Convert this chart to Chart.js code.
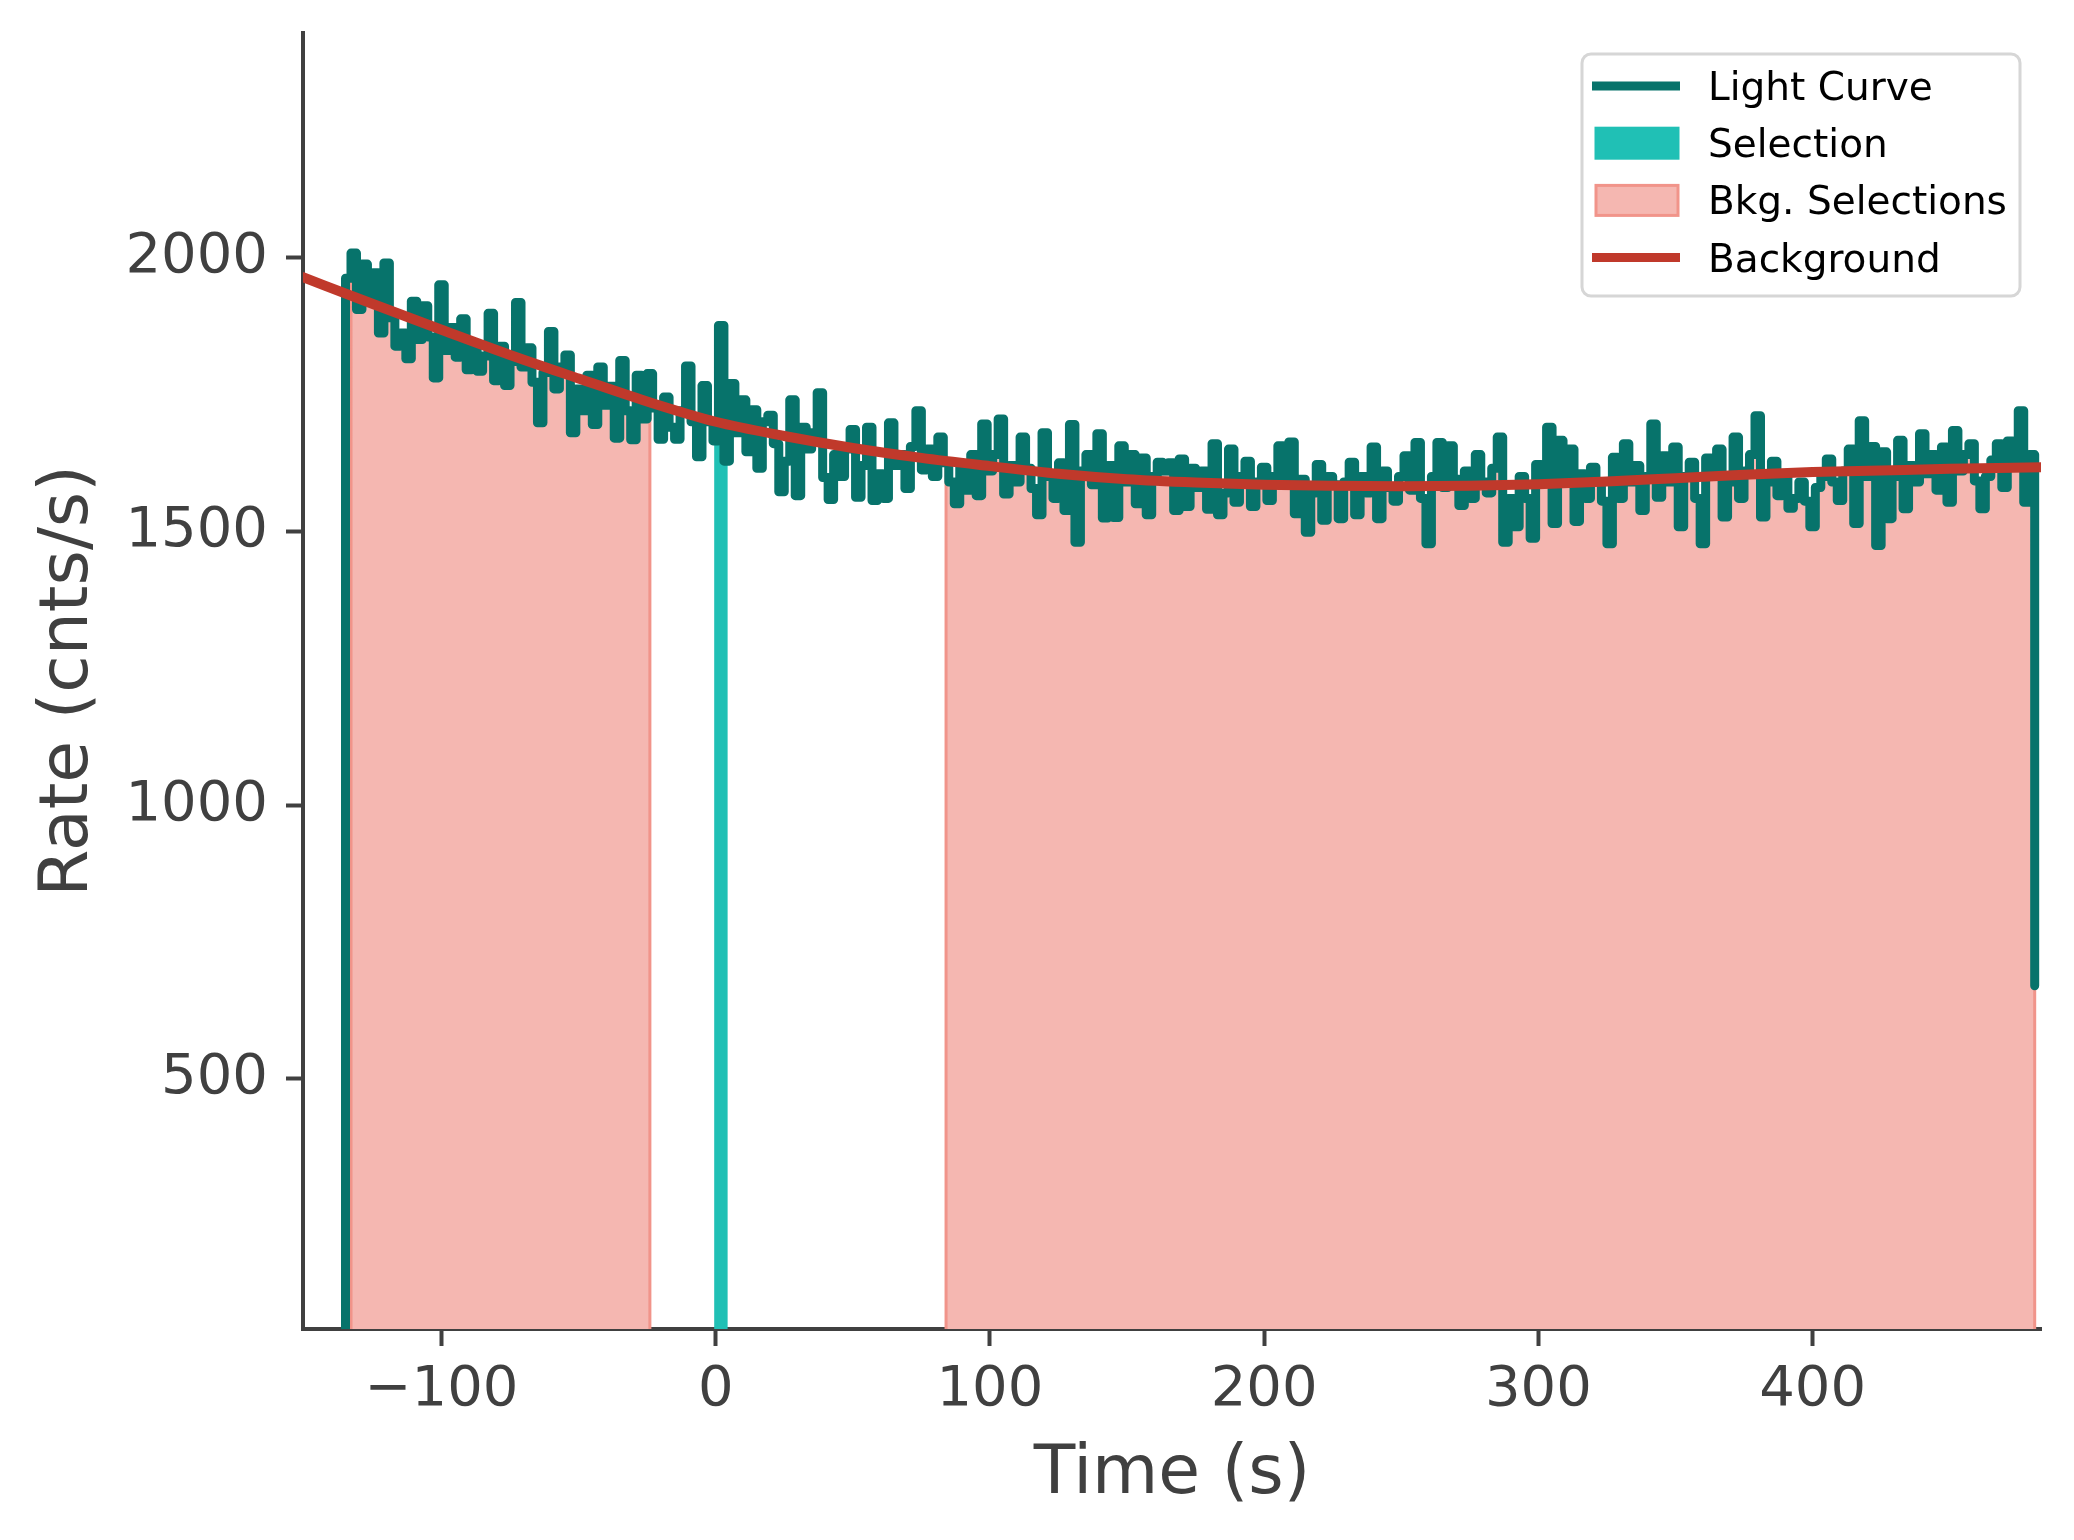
<!DOCTYPE html>
<html lang="en">
<head>
  <meta charset="UTF-8">
  <title>Light Curve - Background Fit</title>
  <script src="https://cdn.jsdelivr.net/npm/chart.js"></script>
  <style>
    body { margin: 0; background: white; }
    canvas { display: block; }
  </style>
</head>
<body>
<canvas id="lcChart" width="2074" height="1540"></canvas>

<script>
// light curve, 2 s bins from lcStart; the step rises from zero at the first edge
const lcStart = -135;
const lcBin = 2;
const lcRate = [
  1962, 2008, 1905, 1988, 1932,  1972, 1862, 1990, 1890, 1838,
  1862, 1815, 1920, 1850, 1912,  1855, 1780, 1950, 1830, 1872,
  1818, 1888, 1795, 1840, 1792,  1820, 1898, 1775, 1838, 1766,
  1810, 1918, 1800, 1835, 1772,  1698, 1790, 1865, 1760, 1800,
  1822, 1680, 1760, 1720, 1785,  1695, 1800, 1730, 1765, 1670,
  1812, 1720, 1667, 1785, 1705,  1788, 1725, 1668, 1745, 1690,
  1668, 1720, 1802, 1700, 1636,  1766, 1700, 1665, 1876, 1628,
  1770, 1680, 1740, 1645, 1722,  1615, 1700, 1712, 1660, 1572,
  1628, 1740, 1565, 1690, 1650,  1680, 1753, 1598, 1558, 1640,
  1600, 1650, 1686, 1562, 1620,  1690, 1556, 1605, 1560, 1698,
  1620, 1640, 1578, 1655, 1720,  1612, 1650, 1600, 1672, 1625,
  1590, 1550, 1620, 1575, 1640,  1565, 1696, 1610, 1640, 1705,
  1568, 1620, 1590, 1672, 1615,  1578, 1530, 1680, 1600, 1560,
  1625, 1538, 1695, 1480, 1610,  1640, 1585, 1678, 1524, 1620,
  1525, 1656, 1590, 1640, 1550,  1634, 1530, 1600, 1626, 1610,
  1625, 1538, 1632, 1545, 1615,  1580, 1610, 1540, 1660, 1530,
  1570, 1650, 1553, 1600, 1628,  1545, 1590, 1617, 1556, 1600,
  1656, 1585, 1663, 1532, 1595,  1498, 1570, 1622, 1520, 1600,
  1585, 1523, 1590, 1626, 1530,  1600, 1570, 1654, 1523, 1610,
  1580, 1555, 1600, 1638, 1575,  1662, 1560, 1477, 1600, 1662,
  1580, 1656, 1595, 1547, 1610,  1560, 1640, 1590, 1570, 1615,
  1672, 1480, 1560, 1508, 1600,  1560, 1487, 1622, 1590, 1690,
  1514, 1666, 1600, 1650, 1518,  1605, 1560, 1617, 1590, 1555,
  1477, 1635, 1560, 1660, 1590,  1620, 1538, 1600, 1696, 1562,
  1638, 1590, 1654, 1508, 1600,  1626, 1560, 1477, 1634, 1600,
  1650, 1526, 1590, 1672, 1560,  1610, 1640, 1711, 1526, 1590,
  1628, 1565, 1600, 1542, 1560,  1590, 1555, 1508, 1580, 1600,
  1632, 1590, 1556, 1610, 1650,  1514, 1702, 1600, 1655, 1474,
  1645, 1523, 1600, 1666, 1541,  1620, 1590, 1678, 1605, 1640,
  1575, 1654, 1553, 1684, 1610,  1640, 1660, 1592, 1541, 1600,
  1630, 1660, 1580, 1665, 1620,  1720, 1553, 1640
];
const lcLastTime = 481;
const lcLastRate = 670;

// selections (s)
const selInterval = [0, 3.8];
const bkgIntervals = [[-133, -24], [84, 481]];

// fitted background model
const bkgTime = [-151, -125, -100, -75, -50, -25, 0, 25, 50, 75, 100, 125, 150,
                 175, 200, 225, 250, 275, 300, 325, 350, 375, 400, 425, 450, 484];
const bkgRate = [1965, 1915, 1868, 1822, 1779, 1737, 1700, 1674, 1652, 1634, 1619, 1605, 1595,
                 1589, 1585, 1583, 1582, 1583, 1586, 1591, 1597, 1603, 1608, 1611, 1614, 1617];

const xTicks = [-100, 0, 100, 200, 300, 400];
const yTicks = [500, 1000, 1500, 2000];

const colLC = '#07736b';
const colSel = '#20c0b5';
const colBkgFill = '#f5b7b1';
const colBkgEdge = '#f1948a';
const colFit = '#c0392b';
const colAxis = '#404040';

// points at bin ends, used with stepped:'after'
const lcPoints = [{ x: lcStart, y: 0 }];
lcRate.forEach((v, i) => lcPoints.push({ x: lcStart + (i + 1) * lcBin, y: v }));
lcPoints.push({ x: lcLastTime, y: lcLastRate });

// area under the light curve between a and b
function regionPoints(a, b) {
  const pts = [{ x: a, y: 0 }];
  lcRate.forEach((v, i) => {
    const e = lcStart + (i + 1) * lcBin;
    const s = e - lcBin;
    if (e > a && s < b) pts.push({ x: Math.min(e, b), y: v });
  });
  pts.push({ x: b, y: 0 });
  return pts;
}

const datasets = [
  {
    label: 'Background',
    data: bkgTime.map((t, i) => ({ x: t, y: bkgRate[i] })),
    borderColor: colFit, borderWidth: 10,
    cubicInterpolationMode: 'monotone',
    pointRadius: 0, fill: false, order: 0
  },
  {
    label: 'Light Curve',
    data: lcPoints,
    stepped: 'after',
    borderColor: colLC, borderWidth: 9,
    borderJoinStyle: 'round', borderCapStyle: 'round',
    pointRadius: 0, fill: false, order: 1
  },
  {
    label: 'Selection',
    data: regionPoints(selInterval[0], selInterval[1]),
    stepped: 'after',
    borderColor: colSel, backgroundColor: colSel, borderWidth: 3,
    pointRadius: 0, fill: 'start', order: 2
  }
];
bkgIntervals.forEach(iv => {
  datasets.push({
    label: 'Bkg. Selections',
    data: regionPoints(iv[0], iv[1]),
    stepped: 'after',
    borderColor: colBkgEdge, backgroundColor: colBkgFill, borderWidth: 3,
    pointRadius: 0, fill: 'start', order: 3
  });
});

const legendItems = [
  { label: 'Light Curve', kind: 'line', color: colLC },
  { label: 'Selection', kind: 'patch', color: colSel, edge: colSel },
  { label: 'Bkg. Selections', kind: 'patch', color: colBkgFill, edge: colBkgEdge },
  { label: 'Background', kind: 'line', color: colFit }
];

// matplotlib-like legend box in the upper right
const mplLegend = {
  id: 'mplLegend',
  afterDraw(chart) {
    const c = chart.ctx;
    const bx = 1582, by = 54, bw = 438, bh = 242, r = 9;
    c.save();
    c.beginPath();
    c.moveTo(bx + r, by);
    c.arcTo(bx + bw, by, bx + bw, by + bh, r);
    c.arcTo(bx + bw, by + bh, bx, by + bh, r);
    c.arcTo(bx, by + bh, bx, by, r);
    c.arcTo(bx, by, bx + bw, by, r);
    c.closePath();
    c.fillStyle = 'rgba(255,255,255,0.85)';
    c.fill();
    c.lineWidth = 3;
    c.strokeStyle = '#d6d6d6';
    c.stroke();

    c.font = "39px 'DejaVu Sans'";
    c.textBaseline = 'alphabetic';
    c.textAlign = 'left';
    legendItems.forEach((it, i) => {
      const base = 100 + i * 57.2;
      const cy = base - 14;
      if (it.kind === 'line') {
        c.beginPath();
        c.moveTo(1592, cy);
        c.lineTo(1680, cy);
        c.lineWidth = 9;
        c.lineCap = 'butt';
        c.strokeStyle = it.color;
        c.stroke();
      } else {
        c.fillStyle = it.color;
        c.fillRect(1596, cy - 15, 82, 30);
        c.lineWidth = 3;
        c.strokeStyle = it.edge;
        c.strokeRect(1596, cy - 15, 82, 30);
      }
      c.fillStyle = '#000000';
      c.fillText(it.label, 1708, base);
    });
    c.restore();
  }
};

const axisGrid = {
  drawOnChartArea: false, drawTicks: true,
  tickLength: 17, tickWidth: 4, tickColor: colAxis
};
const axisBorder = { display: true, width: 4, color: colAxis };

// fixed axis boxes so the plot area sits where the reference has it
function fixBox(s, size) {
  if (s.isHorizontal()) s.height = size; else s.width = size;
  s.paddingTop = 0; s.paddingBottom = 0;
  s.paddingLeft = 0; s.paddingRight = 0;
}

new Chart(document.getElementById('lcChart').getContext('2d'), {
  type: 'line',
  data: { datasets: datasets },
  options: {
    responsive: false,
    animation: false,
    events: [],
    devicePixelRatio: 1,
    layout: { padding: { left: 0, right: 33, top: 33, bottom: 0 } },
    plugins: { legend: { display: false }, tooltip: { enabled: false } },
    scales: {
      x: {
        type: 'linear', min: -150.5, max: 483.3,
        afterBuildTicks: s => { s.ticks = xTicks.map(v => ({ value: v })); },
        afterFit: s => fixBox(s, 211),
        grid: axisGrid,
        border: axisBorder,
        ticks: {
          font: { family: 'DejaVu Sans', size: 56 }, color: colAxis,
          padding: 11, maxRotation: 0, autoSkip: false,
          callback: v => String(v).replace('-', '\u2212')
        },
        title: {
          display: true, text: 'Time (s)', color: colAxis,
          font: { family: 'DejaVu Sans', size: 68 },
          padding: { top: 0, bottom: 24 }
        }
      },
      y: {
        type: 'linear', min: 43, max: 2410,
        afterBuildTicks: s => { s.ticks = yTicks.map(v => ({ value: v })); },
        afterFit: s => fixBox(s, 303),
        grid: axisGrid,
        border: axisBorder,
        ticks: {
          font: { family: 'DejaVu Sans', size: 56 }, color: colAxis,
          padding: 18,
          callback: v => String(v)
        },
        title: {
          display: true, text: 'Rate (cnts/s)', color: colAxis,
          font: { family: 'DejaVu Sans', size: 68 },
          padding: { top: 29, bottom: 0 }
        }
      }
    }
  },
  plugins: [mplLegend]
});
</script>
</body>
</html>
